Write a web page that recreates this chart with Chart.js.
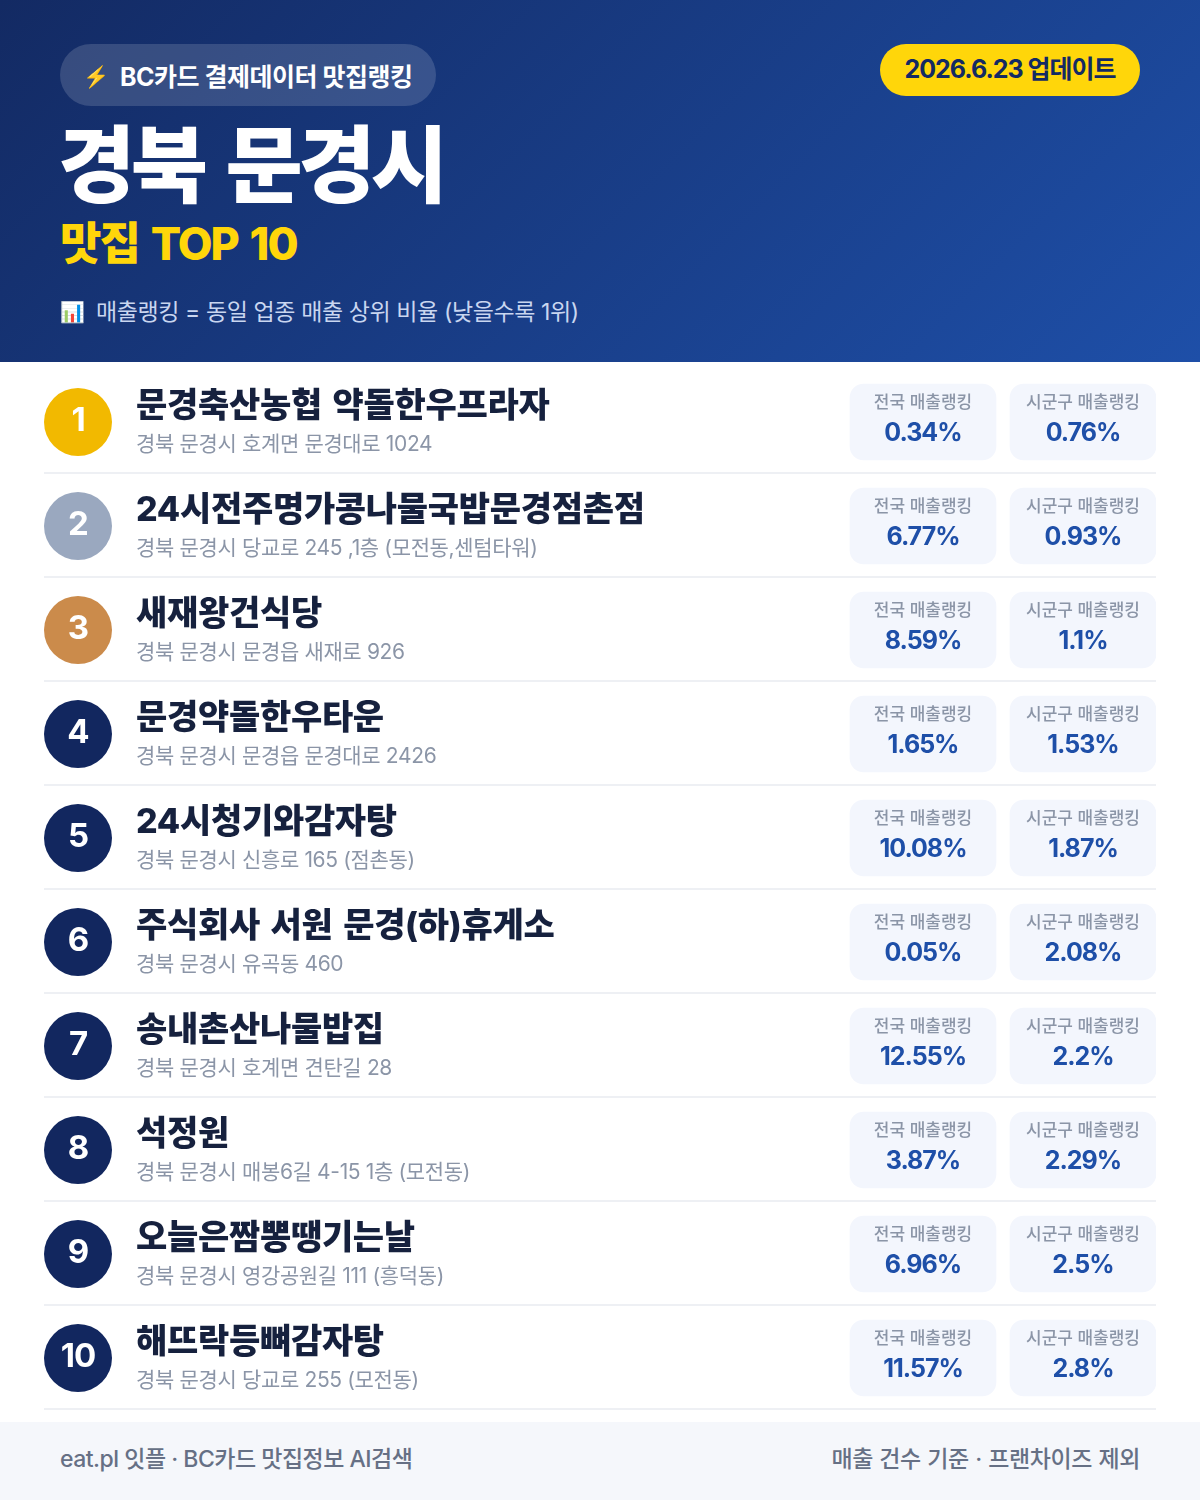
<!DOCTYPE html>
<html lang="ko">
<head>
<meta charset="utf-8">
<title>경북 문경시 맛집 TOP 10</title>
<script src="https://cdn.jsdelivr.net/npm/chart.js@4"></script>
<style>
    * { margin: 0; padding: 0; box-sizing: border-box; }
    html, body { width: 1200px; height: 1500px; background: #fff; overflow: hidden; }
    body { position: relative; font-family: Inter, "Noto Sans CJK KR", sans-serif; }
    .header { position: absolute; left: 0; top: 0; width: 1200px; height: 362px; background: linear-gradient(135deg, #132a63 0%, #1e4fa8 100%); }
    .header div, .footer div { position: absolute; white-space: nowrap; }
    .badge { left: 60px; top: 44px; width: 376px; height: 62px; border-radius: 31px; background: rgba(255,255,255,.15); color: #fff; font-size: 25px; font-weight: 700; line-height: 66px; letter-spacing: -0.5px; }
    .badge span { position: absolute; left: 23px; font-size: 21px; }
    .badge b { position: absolute; left: 60px; font-weight: 700; }
    .updated { left: 880px; top: 44px; width: 260px; height: 52px; border-radius: 26px; background: #ffd60a; color: #132a63; font-size: 25px; font-weight: 700; line-height: 50px; text-align: center; letter-spacing: -1px; }
    .title { left: 58px; top: 106px; color: #fff; font-size: 84px; font-weight: 900; line-height: 120px; letter-spacing: -4.6px; word-spacing: 10px; }
    .subtitle { left: 60px; top: 212px; color: #ffd60a; font-size: 45px; font-weight: 800; line-height: 64px; letter-spacing: -2px; word-spacing: 4px; }
    .note { left: 60px; top: 294px; color: #c9d6f0; font-size: 23px; font-weight: 400; line-height: 36px; letter-spacing: -0.4px; }
    .note span { position: absolute; left: 0; font-size: 20px; }
    .note b { margin-left: 36px; font-weight: 400; }
    #board { position: absolute; left: 0; top: 370px; width: 1200px; height: 1042px; }
    .footer { position: absolute; left: 0; top: 1422px; width: 1200px; height: 78px; background: #f5f7fb; color: #667085; font-size: 23px; font-weight: 500; line-height: 74px; letter-spacing: -0.4px; }
    .footer .left { left: 60px; letter-spacing: -0.5px; }
    .footer .right { right: 60px; word-spacing: 0.7px; }
</style>
</head>
<body>
<div class="header">
    <div class="badge"><span>⚡</span><b>BC카드 결제데이터 맛집랭킹</b></div>
    <div class="updated">2026.6.23 업데이트</div>
    <div class="title">경북 문경시</div>
    <div class="subtitle">맛집 TOP 10</div>
    <div class="note"><span>📊</span><b>매출랭킹 = 동일 업종 매출 상위 비율 (낮을수록 1위)</b></div>
</div>
<canvas id="board" width="1200" height="1042"></canvas>
<div class="footer">
    <div class="left">eat.pl 잇플 · BC카드 맛집정보 AI검색</div>
    <div class="right">매출 건수 기준 · 프랜차이즈 제외</div>
</div>
<script>
// Chart data
const ranks = ['1', '2', '3', '4', '5', '6', '7', '8', '9', '10'];
const names = ['문경축산농협 약돌한우프라자', '24시전주명가콩나물국밥문경점촌점', '새재왕건식당', '문경약돌한우타운', '24시청기와감자탕',
    '주식회사 서원 문경(하)휴게소', '송내촌산나물밥집', '석정원', '오늘은짬뽕땡기는날', '해뜨락등뼈감자탕'];
const addresses = ['경북 문경시 호계면 문경대로 1024', '경북 문경시 당교로 245 ,1층 (모전동,센텀타워)', '경북 문경시 문경읍 새재로 926', '경북 문경시 문경읍 문경대로 2426', '경북 문경시 신흥로 165 (점촌동)',
    '경북 문경시 유곡동 460', '경북 문경시 호계면 견탄길 28', '경북 문경시 매봉6길 4-15 1층 (모전동)', '경북 문경시 영강공원길 111 (흥덕동)', '경북 문경시 당교로 255 (모전동)'];
const nationalRank = [0.34, 6.77, 8.59, 1.65, 10.08, 0.05, 12.55, 3.87, 6.96, 11.57];
const districtRank = [0.76, 0.93, 1.1, 1.53, 1.87, 2.08, 2.2, 2.29, 2.5, 2.8];
const nationalLabel = '전국 매출랭킹';
const districtLabel = '시군구 매출랭킹';

// Layout along the row, in x scale units
const circleX = 34;
const nameX = 92;
const nationalCard = [806, 952];
const districtCard = [966, 1112];

const medalColors = ['#f2b900', '#9aa8bf', '#cb8b4b'];
const navy = '#12275f';
const fontFamily = 'Inter, "Noto Sans CJK KR", sans-serif';

// Draws the row separators just under each band, one pixel above the band edge
const rowLines = {
    id: 'rowLines',
    beforeDatasetsDraw(chart) {
        const { ctx, chartArea, scales: { y } } = chart;
        ctx.save();
        ctx.fillStyle = '#eef0f4';
        ranks.forEach((rank, i) => {
            const bottom = Math.round(y.getPixelForValue(i) + y.height / ranks.length / 2);
            ctx.fillRect(chartArea.left, bottom - 2, chartArea.width, 2);
        });
        ctx.restore();
    }
};

// Draws the rank numbers, names, addresses and card texts on the scale positions
const rowText = {
    id: 'rowText',
    afterDatasetsDraw(chart) {
        const { ctx, scales: { x, y } } = chart;
        const put = (text, px, py, font, color, align, spacing, wordGap) => {
            ctx.font = font + ' ' + fontFamily;
            ctx.fillStyle = color;
            ctx.textAlign = align;
            ctx.textBaseline = 'alphabetic';
            ctx.letterSpacing = spacing || '0px';
            ctx.wordSpacing = wordGap || '0px';
            ctx.fillText(text, px, py);
        };
        ctx.save();
        ranks.forEach((rank, i) => {
            const cy = y.getPixelForValue(i);
            const nationalMid = x.getPixelForValue((nationalCard[0] + nationalCard[1]) / 2);
            const districtMid = x.getPixelForValue((districtCard[0] + districtCard[1]) / 2);
            put(rank, x.getPixelForValue(circleX), cy + 9, '700 33px', '#ffffff', 'center', '-1px');
            put(names[i], x.getPixelForValue(nameX), cy - 5, '800 34px', '#16213e', 'left', '-0.3px', '3.5px');
            put(addresses[i], x.getPixelForValue(nameX), cy + 29, '400 21px', '#8b95a7', 'left', '-0.35px');
            put(nationalLabel, nationalMid, cy - 14, '500 17px', '#8b95a7', 'center');
            put(`${nationalRank[i]}%`, nationalMid, cy + 19, '700 25px', '#1e4fa8', 'center', '-1px');
            put(districtLabel, districtMid, cy - 14, '500 17px', '#8b95a7', 'center');
            put(`${districtRank[i]}%`, districtMid, cy + 19, '700 25px', '#1e4fa8', 'center', '-1px');
        });
        ctx.restore();
    }
};

new Chart(document.getElementById('board'), {
    type: 'bar',
    plugins: [rowLines, rowText],
    data: {
        labels: ranks,
        datasets: [
            {
                label: nationalLabel,
                data: ranks.map(() => nationalCard),
                backgroundColor: '#f3f6fd',
                borderRadius: 14,
                borderSkipped: false,
                barThickness: 76,
                grouped: false
            },
            {
                label: districtLabel,
                data: ranks.map(() => districtCard),
                backgroundColor: '#f3f6fd',
                borderRadius: 14,
                borderSkipped: false,
                barThickness: 76,
                grouped: false
            },
            {
                type: 'scatter',
                label: 'rank',
                data: ranks.map(rank => ({ x: circleX, y: rank })),
                pointRadius: 34,
                pointHoverRadius: 34,
                borderWidth: 0,
                backgroundColor: ranks.map((rank, i) => medalColors[i] || navy)
            }
        ]
    },
    options: {
        indexAxis: 'y',
        responsive: false,
        animation: false,
        devicePixelRatio: 1,
        layout: { autoPadding: false, padding: { left: 44, right: 44, top: 0, bottom: 2 } },
        plugins: { legend: { display: false }, tooltip: { enabled: false } },
        scales: {
            x: { type: 'linear', min: 0, max: 1112, display: false },
            y: { type: 'category', offset: true, display: false }
        }
    }
});
</script>
</body>
</html>
